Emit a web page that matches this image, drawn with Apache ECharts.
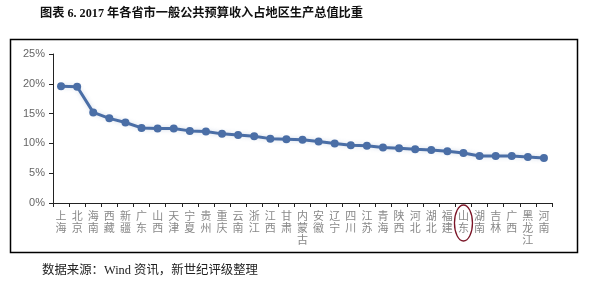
<!DOCTYPE html>
<html><head><meta charset="utf-8">
<script src="https://cdn.jsdelivr.net/npm/echarts@6/dist/echarts.min.js"></script>
<style>html,body{margin:0;padding:0;background:#fff}#c{width:593px;height:286px}</style>
</head><body><div id="c"></div>
<script>
const categories = ['上海','北京','海南','西藏','新疆','广东','山西','天津','宁夏','贵州','重庆','云南','浙江','江西','甘肃','内蒙古','安徽','辽宁','四川','江苏','青海','陕西','河北','湖北','福建','山东','湖南','吉林','广西','黑龙江','河南'];
const ratios = [19.6,19.5,15.2,14.2,13.5,12.6,12.5,12.5,12.1,12.0,11.6,11.4,11.2,10.8,10.7,10.6,10.3,10.0,9.7,9.6,9.3,9.2,9.0,8.9,8.7,8.4,7.9,7.9,7.9,7.7,7.55];
const yTicks = [0,5,10,15,20,25];
const highlighted = '山东';
const titleText = '图表 6. 2017 年各省市一般公共预算收入占地区生产总值比重';
const sourceText = '数据来源：Wind 资讯，新世纪评级整理';

const chart = echarts.init(document.getElementById('c'));
const CJK = 'Liberation Serif, Noto Sans CJK SC';
chart.setOption({
  animation:false,
  grid:{left:53,right:41,top:54,bottom:83},
  xAxis:{type:'category',data:categories,boundaryGap:true,
    axisLine:{lineStyle:{color:'#222',width:1}},
    axisTick:{show:true,length:4,inside:false,lineStyle:{color:'#222'}},
    axisLabel:{interval:0,color:'#888',fontSize:11,lineHeight:12,margin:7,
      fontFamily:'Noto Sans CJK SC',
      formatter:v=>v.split('').join('\n')}},
  yAxis:{type:'value',min:0,max:25,interval:5,
    axisLine:{show:true,lineStyle:{color:'#222'}},
    axisTick:{show:true,length:4,lineStyle:{color:'#222'}},
    splitLine:{show:false},
    axisLabel:{color:'#666',fontSize:11,margin:8,fontFamily:'Liberation Sans',
      formatter:v=>yTicks.includes(v)?v+'%':''}},
  series:[{type:'line',data:ratios,symbol:'circle',symbolSize:8,
    lineStyle:{color:'#4a6ea6',width:3,shadowColor:'rgba(74,110,166,0.25)',shadowBlur:4},
    itemStyle:{color:'#4a6ea6'}}],
  graphic:[
    {type:'rect',shape:{x:10.5,y:39.5,width:567,height:213},style:{fill:'none',stroke:'#000',lineWidth:1.5},silent:true},
    {type:'text',left:40,top:8,style:{text:titleText,fontSize:12.2,fontWeight:'bold',fontFamily:CJK,fill:'#111'}},
    {type:'text',left:42,top:265,style:{text:sourceText,fontSize:12.4,fontFamily:CJK,fill:'#222'}}
  ]
});
const idx = categories.indexOf(highlighted);
const p = chart.convertToPixel({xAxisIndex:0},idx);
const base = chart.convertToPixel({yAxisIndex:0},0);
chart.setOption({graphic:[{},{},{},
  {type:'ellipse',shape:{cx:p,cy:base+20,rx:9,ry:18},style:{fill:'none',stroke:'#7a1426',lineWidth:1.3},silent:true}
]});
</script></body></html>
